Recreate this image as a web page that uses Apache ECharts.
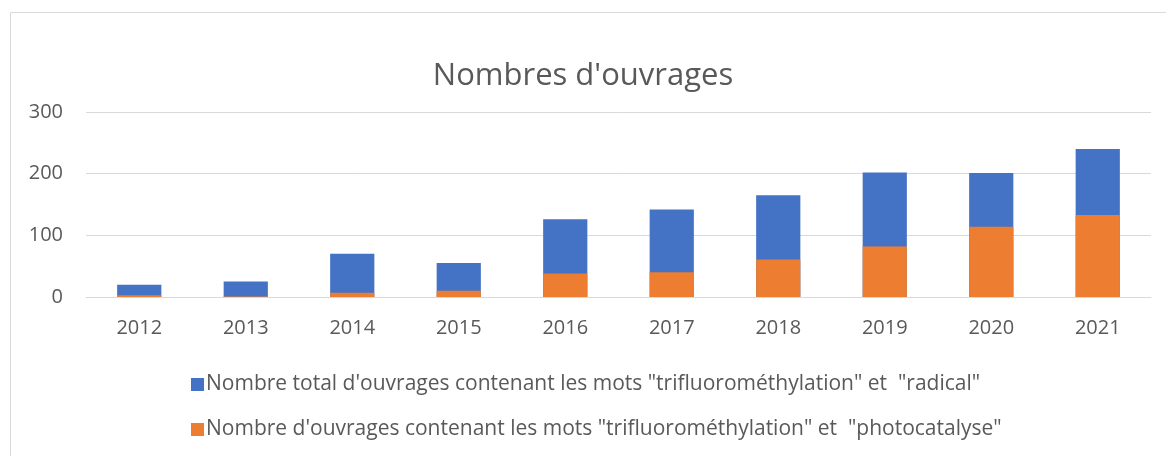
<!DOCTYPE html>
<html>
<head>
<meta charset="utf-8">
<script src="https://cdn.jsdelivr.net/npm/echarts@6/dist/echarts.min.js"></script>
<style>html,body{margin:0;padding:0;background:#fff}#c{width:1166px;height:456px}</style>
</head>
<body>
<div id="c"></div>
<script>
const categories = ['2012','2013','2014','2015','2016','2017','2018','2019','2020','2021'];
const totalRadical = [20, 25, 70, 55, 126, 142, 165, 202, 201, 240];
const photocatalyse = [3, 1, 7, 10, 38, 40, 61, 82, 114, 133];
const seriesNames = [
  'Nombre total d\'ouvrages contenant les mots "trifluorométhylation" et  "radical"',
  'Nombre d\'ouvrages contenant les mots "trifluorométhylation" et  "photocatalyse"'
];
const yTicks = {min: 0, max: 300, interval: 100};

const font = 'Open Sans, Noto Sans, sans-serif';
const chart = echarts.init(document.getElementById('c'), null, {renderer: 'canvas'});
chart.setOption({
  animation: false,
  backgroundColor: '#fff',
  textStyle: {fontFamily: font},
  graphic: [{
    type: 'rect', shape: {x: 10.5, y: 12.5, width: 1200, height: 500},
    style: {fill: 'none', stroke: '#d9d9d9', lineWidth: 1}, silent: true
  }],
  title: {
    text: "Nombres d'ouvrages", left: 'center', top: 56,
    textStyle: {fontFamily: font, fontSize: 31, fontWeight: 'normal', color: '#595959'}
  },
  legend: {
    orient: 'vertical', left: 186, top: 369, itemGap: 24,
    itemWidth: 13, itemHeight: 13, icon: 'rect',
    textStyle: {fontFamily: font, fontSize: 21, color: '#595959', padding: [0, 0, 0, -3]},
    data: seriesNames
  },
  grid: {left: 86, right: 15, top: 112, bottom: 159, containLabel: false},
  xAxis: {
    type: 'category', data: categories,
    axisLine: {show: true, lineStyle: {color: '#d9d9d9', width: 1}},
    axisTick: {show: false},
    axisLabel: {color: '#595959', fontSize: 20, fontFamily: font, margin: 21}
  },
  yAxis: {
    type: 'value', min: yTicks.min, max: yTicks.max, interval: yTicks.interval,
    axisLine: {show: false}, axisTick: {show: false},
    splitLine: {lineStyle: {color: '#d9d9d9', width: 1}},
    axisLabel: {color: '#595959', fontSize: 20, fontFamily: font, margin: 23}
  },
  series: [
    {name: seriesNames[0], type: 'bar', data: totalRadical, barWidth: '41.5%', barGap: '-100%',
     itemStyle: {color: '#4472C4'}},
    {name: seriesNames[1], type: 'bar', data: photocatalyse, barWidth: '41.5%', barGap: '-100%',
     itemStyle: {color: '#ED7D31'}}
  ]
});
</script>
</body>
</html>
